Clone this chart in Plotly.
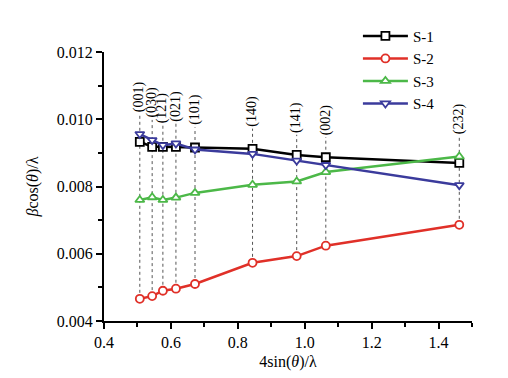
import plotly.graph_objects as go

x_vals = [0.507, 0.544, 0.576, 0.615, 0.672, 0.844, 0.976, 1.063, 1.462]
planes = ["(001)", "(030)", "(121)", "(021)", "(101)", "(140)", "(141)", "(002)", "(232)"]
s1 = [0.00933, 0.00918, 0.00918, 0.00918, 0.00916, 0.00912, 0.00894, 0.00887, 0.00870]
s2 = [0.00466, 0.00474, 0.00490, 0.00496, 0.00510, 0.00573, 0.00593, 0.00624, 0.00686]
s3 = [0.00760, 0.00768, 0.00760, 0.00767, 0.00781, 0.00805, 0.00815, 0.00843, 0.00889]
s4 = [0.00956, 0.00938, 0.00923, 0.00928, 0.00910, 0.00897, 0.00877, 0.00864, 0.00804]

series = [
    ("S-1", s1, "#000000", "square"),
    ("S-2", s2, "#e03028", "circle"),
    ("S-3", s3, "#4cb848", "triangle-up"),
    ("S-4", s4, "#3b3b9c", "triangle-down"),
]

FONT = "Liberation Serif"
fig = go.Figure()

label_offset = 0.0006
for i, (xv, lab) in enumerate(zip(x_vals, planes)):
    top = max(s1[i], s2[i], s3[i], s4[i]) + label_offset
    bottom = s2[i]
    fig.add_shape(type="line", x0=xv, x1=xv, y0=bottom, y1=top,
                  line=dict(color="#555555", width=1, dash="dot"), layer="below")
    fig.add_annotation(x=xv, y=top, text=lab, textangle=-90, showarrow=False,
                       xanchor="center", yanchor="bottom",
                       font=dict(family=FONT, size=14, color="black"))

for name, vals, col, sym in series:
    fig.add_trace(go.Scatter(
        x=x_vals, y=vals, name=name, mode="lines+markers",
        line=dict(color=col, width=2.5),
        marker=dict(symbol=sym, size=8, color="white", line=dict(color=col, width=1.8)),
    ))

fig.update_layout(
    width=508, height=378,
    margin=dict(l=96, r=44, t=41, b=65),
    paper_bgcolor="white", plot_bgcolor="white",
    font=dict(family=FONT, size=16, color="black"),
    legend=dict(x=0.69, y=1.12, xanchor="left", yanchor="top",
                bgcolor="rgba(0,0,0,0)", font=dict(family=FONT, size=15),
                tracegroupgap=0, itemwidth=45),
    showlegend=True,
)
fig.update_xaxes(
    range=[0.4, 1.5], tickmode="array", tickvals=[0.4, 0.6, 0.8, 1.0, 1.2, 1.4],
    ticktext=["0.4", "0.6", "0.8", "1.0", "1.2", "1.4"],
    tickfont=dict(family=FONT, size=16),
    showline=True, linecolor="black", linewidth=2, ticks="outside",
    ticklen=6, tickwidth=2, tickcolor="black", showgrid=False, zeroline=False,
    minor=dict(dtick=0.1, tick0=0.4, ticks="outside", ticklen=4, tickwidth=1.5, tickcolor="black"),
    title=dict(text="4sin(<i>θ</i>)/λ", font=dict(family=FONT, size=16), standoff=6),
)
fig.update_yaxes(
    range=[0.004, 0.012], tickmode="array",
    tickvals=[0.004, 0.006, 0.008, 0.010, 0.012],
    ticktext=["0.004", "0.006", "0.008", "0.010", "0.012"],
    tickfont=dict(family=FONT, size=16),
    showline=True, linecolor="black", linewidth=2, ticks="outside",
    ticklen=6, tickwidth=2, tickcolor="black", showgrid=False, zeroline=False,
    minor=dict(dtick=0.001, tick0=0.004, ticks="outside", ticklen=4, tickwidth=1.5, tickcolor="black"),
    title=dict(text="<i>β</i>cos(<i>θ</i>)/λ", font=dict(family=FONT, size=16), standoff=14),
)
fig.write_html("out.html")
